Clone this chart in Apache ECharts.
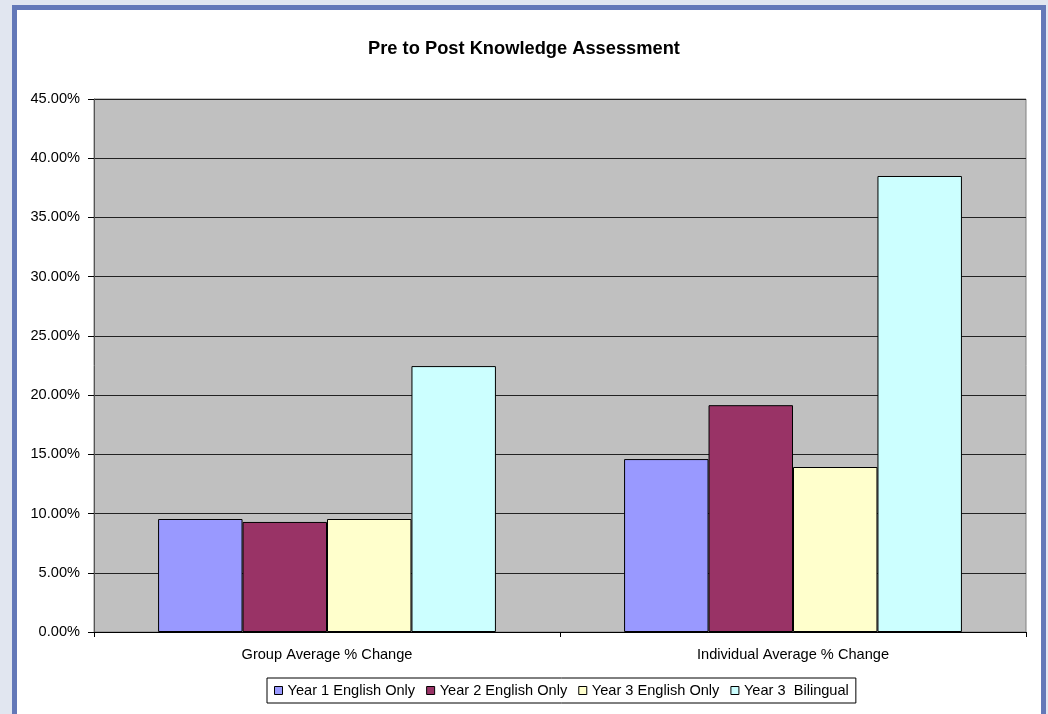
<!DOCTYPE html>
<html>
<head>
<meta charset="utf-8">
<script src="https://cdn.jsdelivr.net/npm/echarts@6/dist/echarts.min.js"></script>
<style>
  html, body { margin: 0; padding: 0; width: 1048px; height: 714px; overflow: hidden; background: #E1E6F0; }
  #frame { position: absolute; left: 12px; top: 5px; width: 1024px; height: 720px; border: 5px solid #6378B8; background: #ffffff; }
  #chart { position: absolute; left: 0; top: 0; width: 1048px; height: 714px; }
</style>
</head>
<body>
<div id="frame"></div>
<div id="chart"></div>
<script>
const categories = ['Group Average % Change', 'Individual Average % Change'];
const seriesNames = ['Year 1 English Only', 'Year 2 English Only', 'Year 3 English Only', 'Year 3  Bilingual'];
const year1English = [0.0954, 0.1460];
const year2English = [0.0929, 0.1915];
const year3English = [0.0954, 0.1393];
const year3Bilingual = [0.2245, 0.3850];
const seriesColors = ['#9999FF', '#993366', '#FFFFCC', '#CCFFFF'];
const seriesData = [year1English, year2English, year3English, year3Bilingual];

const chart = echarts.init(document.getElementById('chart'), null, { renderer: 'canvas' });
const font = 'Liberation Sans, Arial, sans-serif';
const fs = 14.6;
chart.setOption({
  backgroundColor: 'transparent',
  animation: false,
  title: {
    text: 'Pre to Post Knowledge Assessment',
    left: 'center',
    top: 35,
    textStyle: { fontFamily: font, fontSize: 18.3, fontWeight: 'bold', color: '#000' }
  },
  grid: {
    left: 94, right: 22, top: 99, bottom: 82,
    show: true, backgroundColor: '#C0C0C0', borderColor: '#808080', borderWidth: 1,
    containLabel: false
  },
  legend: {
    data: seriesNames,
    left: 267,
    top: 678,
    padding: [5, 7, 5, 7],
    itemWidth: 8,
    itemHeight: 8,
    itemGap: 11,
    borderColor: '#000',
    borderWidth: 1,
    backgroundColor: '#fff',
    icon: 'rect',
    textStyle: { fontFamily: font, fontSize: fs, color: '#000' },
    itemStyle: { borderColor: '#000', borderWidth: 1 }
  },
  xAxis: {
    type: 'category',
    data: categories,
    axisLine: { lineStyle: { color: '#000', width: 1 } },
    axisTick: { show: true, alignWithLabel: false, length: 5, lineStyle: { color: '#000' } },
    axisLabel: { fontFamily: font, fontSize: fs, color: '#000', margin: 15 },
    splitLine: { show: false }
  },
  yAxis: {
    type: 'value',
    min: 0, max: 0.45, interval: 0.05,
    axisLine: { show: true, lineStyle: { color: '#555', width: 1 } },
    axisTick: { show: true, length: 6, lineStyle: { color: '#000' } },
    axisLabel: {
      fontFamily: font, fontSize: fs, color: '#000', margin: 14,
      formatter: v => (v * 100).toFixed(2) + '%'
    },
    splitLine: { show: true, lineStyle: { color: '#222', width: 1 } }
  },
  series: seriesData.map((d, i) => ({
    name: seriesNames[i],
    type: 'bar',
    data: d,
    barGap: '0%',
    barCategoryGap: '27.5%',
    itemStyle: { color: seriesColors[i], borderColor: '#000', borderWidth: 1 }
  }))
});
</script>
</body>
</html>
